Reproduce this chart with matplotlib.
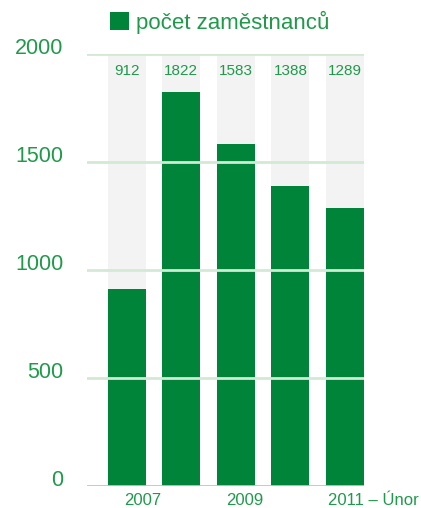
from matplotlib import pyplot as plt
import numpy as np

plt.rcParams['font.family'] = ['Liberation Sans', 'DejaVu Sans']

years = ['2007', '2008', '2009', '2010', '2011 – Únor']
employees = [912, 1822, 1583, 1388, 1289]
shown_ticks = ['2007', '2009', '2011 – Únor']
y_max = 2000
y_ticks = [0, 500, 1000, 1500, 2000]

green = '#00843a'
text_green = '#1f9a4b'
grid_green = '#d3e9d5'

x = np.arange(len(years))

fig = plt.figure(figsize=(4.21, 5.08), dpi=100)
ax = fig.add_axes([0.2067, 0.0433, 0.6579, 0.8504])

ax.bar(x, [y_max] * len(x), width=0.7, color='#f3f3f3', zorder=1)
bars = ax.bar(x, employees, width=0.7, color=green, zorder=2,
              label='počet zaměstnanců')

for xi, v in zip(x, employees):  # values printed at the top of the grey bars
    ax.annotate(str(v), (xi, y_max), xytext=(0, -12), textcoords='offset points',
                ha='center', va='center', color=text_green, fontsize=11)

for yt in y_ticks[1:]:
    ax.axhline(yt, color=grid_green, lw=2, zorder=3)
ax.axhline(0, color='#a9d5ad', lw=2, zorder=3)

ax.set_xlim(-0.73, 4.35)
ax.set_ylim(0, y_max)
ax.set_yticks(y_ticks)
ax.set_yticklabels([str(t) for t in y_ticks], va='baseline')
ax.tick_params(axis='y', length=0, pad=17, labelsize=15.5, labelcolor=text_green)

# x labels sit a little right of the bar centres (only every other year)
ax.set_xticks([])
offsets = [0.30, 0.17, 0.53]
for lab, o in zip(shown_ticks, offsets):
    ax.annotate(lab, (x[years.index(lab)] + o, 0),
                xycoords=('data', 'axes fraction'), xytext=(0, -5),
                textcoords='offset points', ha='center', va='top',
                color=text_green, fontsize=12, annotation_clip=False)

for s in ax.spines.values():
    s.set_visible(False)

ax.legend(handles=[bars], loc='lower left', bbox_to_anchor=(0.083, 1.047),
          frameon=False, fontsize=16, labelcolor=text_green,
          handlelength=0.86, handleheight=0.86, handletextpad=0.3,
          borderpad=0, borderaxespad=0)

fig.savefig('out.png', dpi=100)
